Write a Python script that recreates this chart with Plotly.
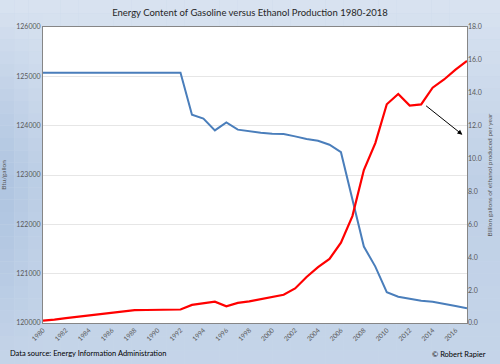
import math
import plotly.graph_objects as go

years = list(range(1980, 2018))
gasoline_btu = [125071] * 13 + [
    124223, 124142, 123905, 124067, 123919, 123884, 123858, 123838, 123831,
    123783, 123730, 123695, 123614, 123462, 122497, 121549, 121143, 120623,
    120534, 120497, 120453, 120432, 120396, 120345, 120299]
ethanol_bgal = [
    0.15, 0.20, 0.30, 0.38, 0.45, 0.55, 0.62, 0.72, 0.78, 0.79, 0.79, 0.80,
    0.82, 1.10, 1.22, 1.30, 1.02, 1.22, 1.32, 1.44, 1.58, 1.72, 2.10, 2.80,
    3.40, 3.90, 4.88, 6.50, 9.30, 10.94, 13.30, 13.93, 13.22, 13.29, 14.31,
    14.81, 15.41, 15.94]
x_ticks = list(range(1980, 2017, 2))
title_text = "Energy Content of Gasoline versus Ethanol Production 1980-2018"
left_title = "Btu/gallon"
right_title = "Billion gallons of ethanol produced per year"
source_text = "Data source: Energy Information Administration"
credit_text = "© Robert Rapier"

W, H = 500, 364
L, R, T, B = 43, 33, 27, 41
PW, PH = W - L - R, H - T - B
FONT = "Lato, Open Sans, sans-serif"

fig = go.Figure()
fig.add_trace(go.Scatter(x=years, y=gasoline_btu, mode="lines",
                         line=dict(color="#4a7ebb", width=2), yaxis="y"))
fig.add_trace(go.Scatter(x=years, y=ethanol_bgal, mode="lines",
                         line=dict(color="#ff0000", width=2.2), yaxis="y2"))

# gradient background in the margins
light = (224, 232, 243)
dark = (166, 190, 221)
def tcol(u, v):
    t = 0.12 + 0.45 * min(v / 180, 1) - 0.1 * max(0, (v - 180) / 180) \
        + 0.3 * max(0, 1 - u / 45) * math.sin(math.pi * v / 364)
    t = max(0, min(1, t))
    c = [round(light[i] + (dark[i] - light[i]) * t) for i in range(3)]
    return "rgb(%d,%d,%d)" % tuple(c)

def splits(a, b, n):
    return [a + (b - a) * i / n for i in range(n + 1)]

xb = splits(0, L, 3)[:-1] + splits(L, W - R, 24)[:-1] + splits(W - R, W, 3)
yb = splits(0, T, 2)[:-1] + splits(T, H - B, 24)[:-1] + splits(H - B, H, 3)
shapes = []
for i in range(len(xb) - 1):
    for j in range(len(yb) - 1):
        u0, u1, v0, v1 = xb[i], xb[i + 1], yb[j], yb[j + 1]
        if u0 >= L - 0.01 and u1 <= W - R + 0.01 and v0 >= T - 0.01 and v1 <= H - B + 0.01:
            continue
        shapes.append(dict(type="rect", xref="paper", yref="paper", layer="below",
                           x0=(u0 - L) / PW, x1=(u1 - L) / PW,
                           y0=1 - (v1 - T) / PH, y1=1 - (v0 - T) / PH,
                           line=dict(width=0), fillcolor=tcol((u0 + u1) / 2, (v0 + v1) / 2)))

fig.update_layout(
    width=W, height=H,
    margin=dict(l=L, r=R, t=T, b=B, autoexpand=False),
    paper_bgcolor="#c9d8ea", plot_bgcolor="#ffffff",
    showlegend=False,
    shapes=shapes,
    title=dict(text=title_text, x=0.5, xanchor="center", y=1 - 13 / H, yanchor="middle",
               font=dict(family=FONT, size=9.5, color="#262626")),
    xaxis=dict(range=[1980, 2017], tickvals=x_ticks, ticktext=[str(v) for v in x_ticks],
               tickangle=-45, tickfont=dict(family=FONT, size=6.5, color="#595959"),
               showgrid=False, zeroline=False, showline=True, linecolor="#868686",
               linewidth=1, mirror=True, ticks="", automargin=False),
    yaxis=dict(range=[120000, 126000], dtick=1000, tickformat="d",
               tickfont=dict(family=FONT, size=7, color="#595959"),
               showgrid=True, gridcolor="#e6e6e6", gridwidth=1, zeroline=False,
               showline=True, linecolor="#868686", mirror=True, ticks="", automargin=False,
               title=dict(text=left_title, font=dict(family=FONT, size=6.5, color="#595959"),
                          standoff=8)),
    yaxis2=dict(range=[0, 18], dtick=2, tickformat=".1f", overlaying="y", side="right",
                tickfont=dict(family=FONT, size=7, color="#595959"),
                showgrid=False, zeroline=False, ticks="", automargin=False,
                title=dict(text=right_title, font=dict(family=FONT, size=6.5, color="#595959"),
                           standoff=6)),
    annotations=[
        dict(x=2016.6, y=11.45, xref="x", yref="y2", ax=2013.3, ay=13.28,
             axref="x", ayref="y2", showarrow=True, arrowhead=2, arrowsize=1,
             arrowwidth=1, arrowcolor="#000000", text=""),
        dict(text=source_text, xref="paper", yref="paper", x=(8 - L) / PW,
             y=1 - (353 - T) / PH, xanchor="left", yanchor="middle", showarrow=False,
             font=dict(family=FONT, size=7.5, color="#000000")),
        dict(text=credit_text, xref="paper", yref="paper", x=(488 - L) / PW,
             y=1 - (354 - T) / PH, xanchor="right", yanchor="middle", showarrow=False,
             font=dict(family=FONT, size=7.5, color="#000000")),
    ],
)

fig.write_html("out.html", config={"displayModeBar": False},
               post_script="document.body.style.margin='0';document.body.style.overflow='hidden';")
